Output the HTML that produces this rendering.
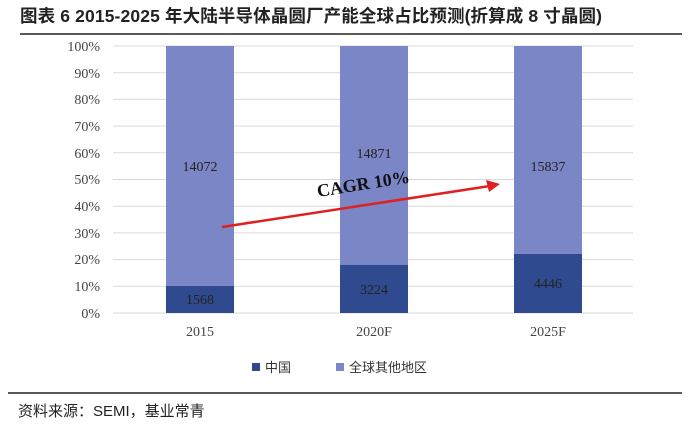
<!DOCTYPE html>
<html><head><meta charset="utf-8"><style>
body{margin:0;background:#fff;width:700px;height:429px;overflow:hidden}
svg text{font-family:"Liberation Serif","Noto Serif CJK SC",serif}
</style></head><body>
<svg width="700" height="429" viewBox="0 0 700 429">
<text x="20" y="22" font-size="17.5" font-weight="bold" fill="#222" textLength="582" style="font-family:'Liberation Sans','Noto Sans CJK SC',sans-serif">图表 6 2015-2025 年大陆半导体晶圆厂产能全球占比预测(折算成 8 寸晶圆)</text>
<line x1="20" y1="34" x2="682" y2="34" stroke="#222" stroke-width="1.5"/>
<g stroke="#d9d9d9" stroke-width="1">
<line x1="113" y1="46" x2="633" y2="46"/><line x1="113" y1="72.7" x2="633" y2="72.7"/><line x1="113" y1="99.4" x2="633" y2="99.4"/><line x1="113" y1="126.1" x2="633" y2="126.1"/><line x1="113" y1="152.8" x2="633" y2="152.8"/><line x1="113" y1="179.5" x2="633" y2="179.5"/><line x1="113" y1="206.2" x2="633" y2="206.2"/><line x1="113" y1="232.9" x2="633" y2="232.9"/><line x1="113" y1="259.6" x2="633" y2="259.6"/><line x1="113" y1="286.3" x2="633" y2="286.3"/><line x1="113" y1="313" x2="633" y2="313"/>
</g>
<g font-size="14" fill="#444" text-anchor="end">
<text x="100" y="51">100%</text><text x="100" y="78">90%</text><text x="100" y="104">80%</text><text x="100" y="131">70%</text><text x="100" y="158">60%</text><text x="100" y="184">50%</text><text x="100" y="211">40%</text><text x="100" y="238">30%</text><text x="100" y="264">20%</text><text x="100" y="291">10%</text><text x="100" y="318">0%</text>
</g>
<g fill="#7b86c6">
<rect x="166" y="46" width="68" height="240"/><rect x="340" y="46" width="68" height="219"/><rect x="514" y="46" width="68" height="208"/>
</g>
<g fill="#2f4a8e">
<rect x="166" y="286" width="68" height="27"/><rect x="340" y="265" width="68" height="48"/><rect x="514" y="254" width="68" height="59"/>
</g>
<g font-size="14" fill="#222" text-anchor="middle">
<text x="200" y="171">14072</text><text x="374" y="158">14871</text><text x="548" y="171">15837</text>
<text x="200" y="304">1568</text><text x="374" y="294">3224</text><text x="548" y="288">4446</text>
<text x="200" y="336" fill="#444">2015</text><text x="374" y="336" fill="#444">2020F</text><text x="548" y="336" fill="#444">2025F</text>
</g>
<line x1="222" y1="227" x2="490" y2="186" stroke="#e02020" stroke-width="2.5"/>
<polygon points="500,184 486,180 489,192" fill="#e02020"/>
<text x="0" y="0" font-size="18" font-weight="bold" fill="#111" transform="translate(318,197) rotate(-9)">CAGR 10%</text>
<rect x="252" y="363" width="8" height="8" fill="#2f4a8e"/>
<text x="265" y="372" font-size="13" fill="#333" style="font-family:'Noto Sans CJK SC',sans-serif">中国</text>
<rect x="336" y="363" width="8" height="8" fill="#7b86c6"/>
<text x="349" y="372" font-size="13" fill="#333" style="font-family:'Noto Sans CJK SC',sans-serif">全球其他地区</text>
<line x1="8" y1="393" x2="682" y2="393" stroke="#222" stroke-width="1.5"/>
<text x="18" y="416" font-size="15" fill="#222" style="font-family:'Liberation Sans','Noto Sans CJK SC',sans-serif">资料来源：SEMI，基业常青</text>
</svg>
</body></html>
